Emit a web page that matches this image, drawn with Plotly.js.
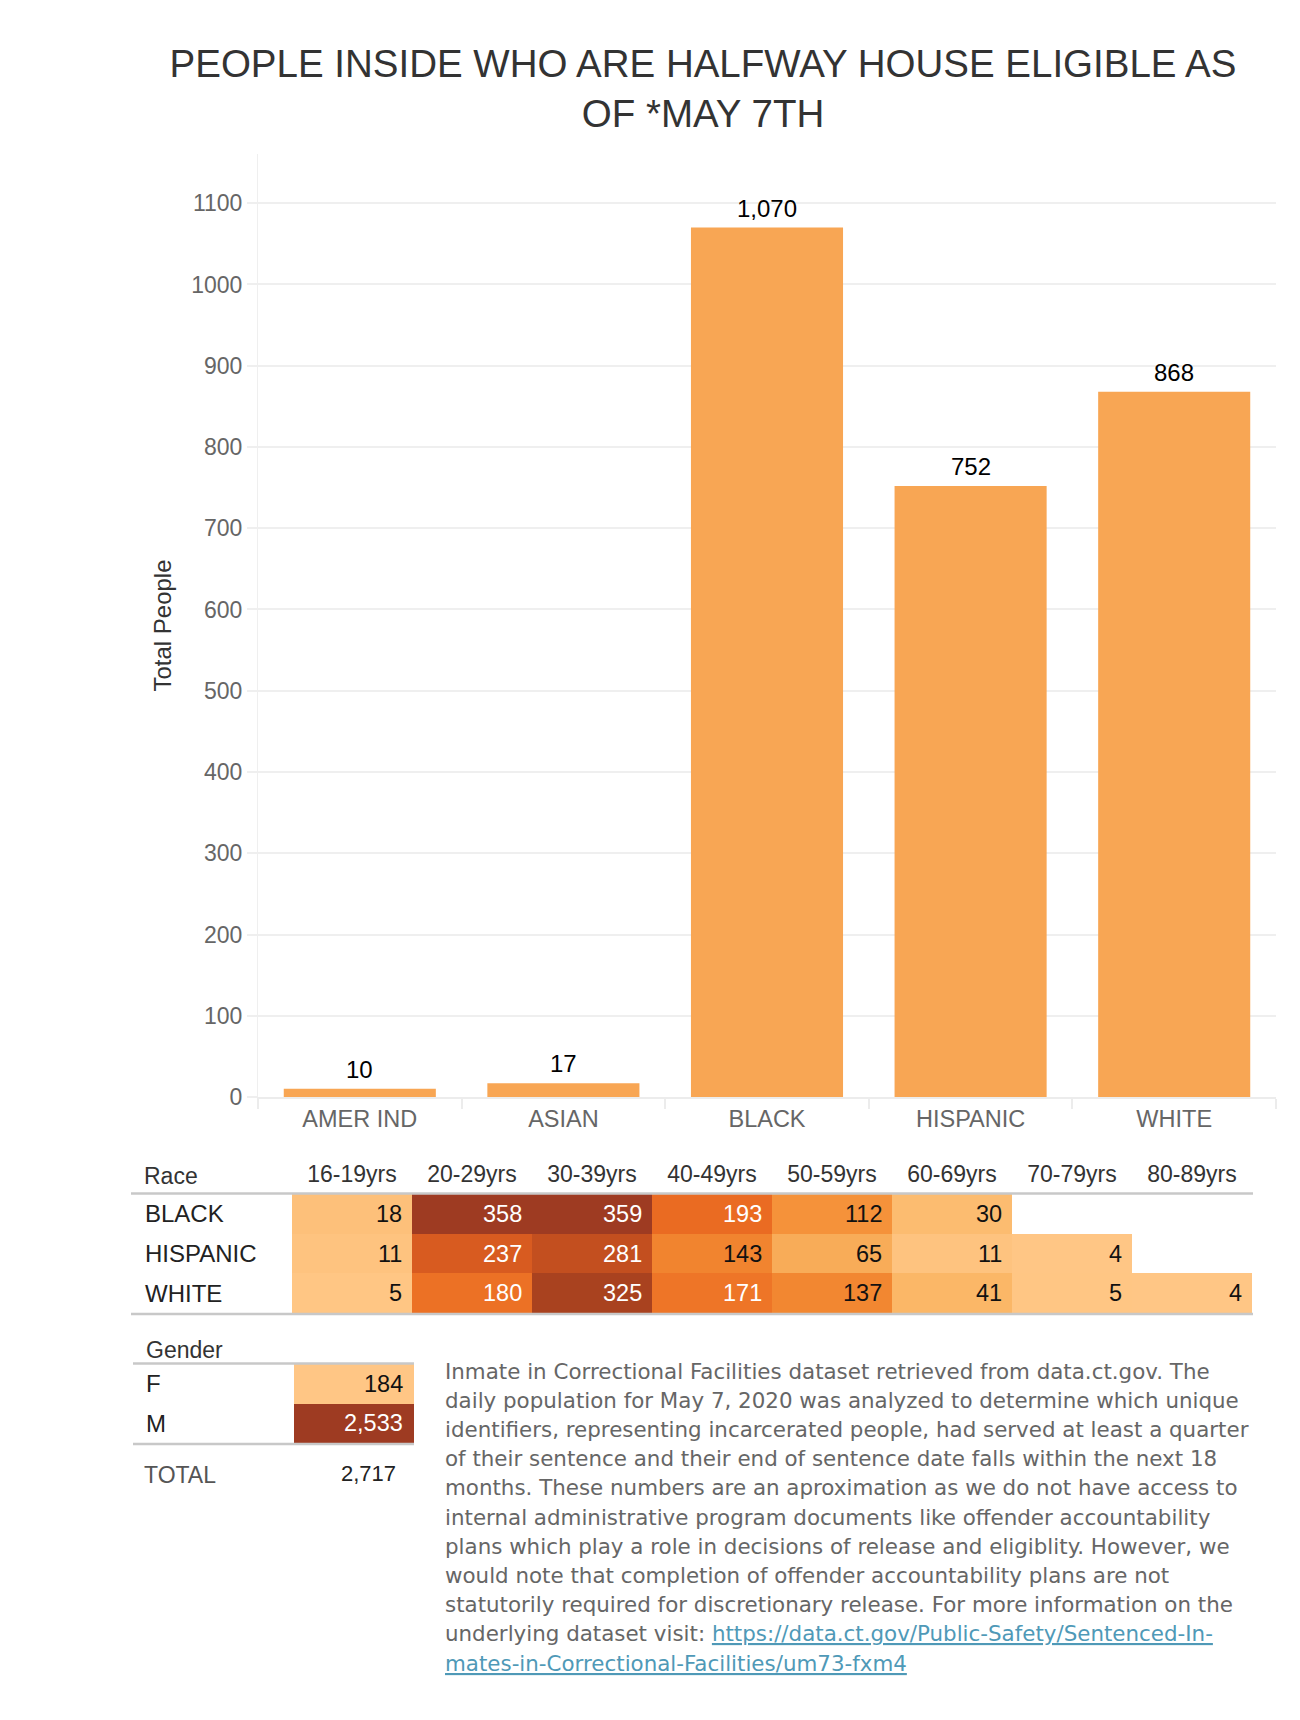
<!DOCTYPE html>
<html>
<head>
<meta charset="utf-8">
<script src="https://cdn.plot.ly/plotly-3.0.1.min.js"></script>
<style>
  html, body { margin: 0; padding: 0; background: #fff; }
  #chart { width: 1300px; height: 1720px; }
</style>
</head>
<body>
<div id="chart"></div>
<script>
// ---------- DATA ----------
const races = ["AMER IND", "ASIAN", "BLACK", "HISPANIC", "WHITE"];
const raceTotals = [10, 17, 1070, 752, 868];

const ageGroups = ["16-19yrs", "20-29yrs", "30-39yrs", "40-49yrs", "50-59yrs", "60-69yrs", "70-79yrs", "80-89yrs"];
const tableRaces = ["BLACK", "HISPANIC", "WHITE"];
const blackByAge    = [18, 358, 359, 193, 112, 30, null, null];
const hispanicByAge = [11, 237, 281, 143, 65, 11, 4, null];
const whiteByAge    = [5, 180, 325, 171, 137, 41, 5, 4];

const genders = ["F", "M"];
const genderTotals = [184, 2533];

const titleText = "PEOPLE INSIDE WHO ARE HALFWAY HOUSE ELIGIBLE AS<br>OF *MAY 7TH";
const yTitle = "Total People";
const noteLines = [
  "Inmate in Correctional Facilities dataset retrieved from data.ct.gov. The",
  "daily population for May 7, 2020 was analyzed to determine which unique",
  "identifiers, representing incarcerated people, had served at least a quarter",
  "of their sentence and their end of sentence date falls within the next 18",
  "months. These numbers are an aproximation as we do not have access to",
  "internal administrative program documents like offender accountability",
  "plans which play a role in decisions of release and eligiblity. However, we",
  "would note that completion of offender accountability plans are not",
  "statutorily required for discretionary release. For more information on the"
];
const linkPrefix = "underlying dataset visit: ";
const linkUrl = "https://data.ct.gov/Public-Safety/Sentenced-Inmates-in-Correctional-Facilities/um73-fxm4";
const linkPart1 = "https://data.ct.gov/Public-Safety/Sentenced-In-";
const linkPart2 = "mates-in-Correctional-Facilities/um73-fxm4";

// ---------- HELPERS ----------
const W = 1300, H = 1720;
const px = v => v / W;
const py = v => 1 - v / H;
const FONT = '"Liberation Sans", Arial, sans-serif';
const NOTE_FONT = '"DejaVu Sans", "Liberation Sans", sans-serif';
const fmt = v => v.toLocaleString('en-US');

const ageMatrix = [blackByAge, hispanicByAge, whiteByAge];

const orangeScale = [
  [0.00, '#ffc685'],
  [0.10, '#fbb868'],
  [0.18, '#f8ab56'],
  [0.30, '#f5933b'],
  [0.38, '#f28630'],
  [0.47, '#ee7527'],
  [0.53, '#ea6b22'],
  [0.65, '#d95c20'],
  [0.78, '#c34f1f'],
  [0.90, '#a9421f'],
  [1.00, '#9e3b22']
];

// ---------- TRACES ----------
const barTrace = {
  type: 'bar',
  x: races,
  y: raceTotals,
  marker: { color: '#f8a654' },
  width: 0.747,
  hoverinfo: 'skip',
  xaxis: 'x', yaxis: 'y'
};

const ageHeat = {
  type: 'heatmap',
  x: ageGroups.map((_, j) => j),
  y: tableRaces.map((_, i) => i),
  z: ageMatrix,
  zmin: 4, zmax: 359,
  colorscale: orangeScale,
  showscale: false,
  hoverinfo: 'skip',
  xaxis: 'x2', yaxis: 'y2'
};

const genderHeat = {
  type: 'heatmap',
  x: [0],
  y: genders.map((_, i) => i),
  z: genderTotals.map(v => [v]),
  zmin: 184, zmax: 2533,
  colorscale: orangeScale,
  showscale: false,
  hoverinfo: 'skip',
  xaxis: 'x3', yaxis: 'y3'
};

// ---------- ANNOTATIONS ----------
const ann = [];

// bar value labels
races.forEach((r, i) => {
  ann.push({
    xref: 'x', yref: 'y', x: r, y: raceTotals[i],
    text: fmt(raceTotals[i]), showarrow: false,
    xanchor: 'center', yanchor: 'bottom', yshift: 4,
    font: { family: FONT, size: 24, color: '#000' }
  });
});

// table header labels
ann.push({ xref: 'paper', yref: 'paper', x: px(142), y: py(1176), text: 'Race', showarrow: false,
  xanchor: 'left', yanchor: 'middle', font: { family: FONT, size: 23, color: '#333' } });
ann.push({ xref: 'paper', yref: 'paper', x: px(144), y: py(1350), text: 'Gender', showarrow: false,
  xanchor: 'left', yanchor: 'middle', font: { family: FONT, size: 23, color: '#333' } });

// age table row labels and cell values
tableRaces.forEach((r, i) => {
  ann.push({ xref: 'paper', yref: 'y2', x: px(143), y: i, text: r, showarrow: false,
    xanchor: 'left', yanchor: 'middle', font: { family: FONT, size: 24, color: '#222' } });
  ageMatrix[i].forEach((v, j) => {
    if (v === null) return;
    ann.push({ xref: 'x2', yref: 'y2', x: j + 0.5, y: i, xshift: -8, text: fmt(v), showarrow: false,
      xanchor: 'right', yanchor: 'middle',
      font: { family: FONT, size: 23.5, color: v >= 150 ? '#fff' : '#111' } });
  });
});

// gender table
genders.forEach((g, i) => {
  ann.push({ xref: 'paper', yref: 'y3', x: px(144), y: i, text: g, showarrow: false,
    xanchor: 'left', yanchor: 'middle', font: { family: FONT, size: 24, color: '#222' } });
  ann.push({ xref: 'x3', yref: 'y3', x: 0.5, y: i, xshift: -9, text: fmt(genderTotals[i]), showarrow: false,
    xanchor: 'right', yanchor: 'middle',
    font: { family: FONT, size: 23.5, color: genderTotals[i] >= 1000 ? '#fff' : '#111' } });
});

// total row
const total = genderTotals.reduce((a, b) => a + b, 0);
ann.push({ xref: 'paper', yref: 'paper', x: px(142), y: py(1475), text: 'TOTAL', showarrow: false,
  xanchor: 'left', yanchor: 'middle', font: { family: FONT, size: 23, color: '#555' } });
ann.push({ xref: 'paper', yref: 'paper', x: px(398), y: py(1473), text: fmt(total), showarrow: false,
  xanchor: 'right', yanchor: 'middle', font: { family: FONT, size: 22, color: '#222' } });

// description paragraph, one annotation per line
const linkStyle = 'color:#4f99b7;text-decoration:underline';
const allLines = noteLines.concat([
  linkPrefix + '<a href="' + linkUrl + '" style="' + linkStyle + '">' + linkPart1 + '</a>',
  '<a href="' + linkUrl + '" style="' + linkStyle + '">' + linkPart2 + '</a>'
]);
allLines.forEach((line, k) => {
  ann.push({ xref: 'paper', yref: 'paper', x: px(443), y: py(1371 + k * 29.2), text: line, showarrow: false,
    xanchor: 'left', yanchor: 'middle', align: 'left',
    font: { family: NOTE_FONT, size: 21.4, color: '#666' } });
});

// ---------- SHAPES (table rules) ----------
const rule = (x0, x1, y) => ({
  type: 'line', xref: 'paper', yref: 'paper', x0: px(x0), x1: px(x1), y0: py(y), y1: py(y),
  line: { color: '#c8c8c8', width: 2.5 }
});
const shapes = [
  rule(131, 1253, 1193.5),
  rule(131, 1253, 1314),
  rule(133, 414, 1363.5),
  rule(133, 414, 1444)
];

// ---------- LAYOUT ----------
const layout = {
  width: W, height: H,
  margin: { l: 0, r: 0, t: 0, b: 0, pad: 0 },
  paper_bgcolor: '#fff', plot_bgcolor: '#fff',
  font: { family: FONT, color: '#333' },
  showlegend: false,
  title: {
    text: titleText,
    x: px(703), xanchor: 'center', xref: 'paper',
    y: py(77), yanchor: 'top', yref: 'container',
    font: { family: FONT, size: 38.5, color: '#333' }
  },
  xaxis: {
    domain: [px(258), px(1276)],
    type: 'category',
    anchor: 'y',
    showgrid: false, zeroline: false,
    showline: true, linecolor: '#ececec', linewidth: 2,
    ticks: 'outside', tickson: 'boundaries', ticklen: 10, tickcolor: '#ececec', tickwidth: 2,
    tickfont: { family: FONT, size: 23.5, color: '#666' },
    fixedrange: true
  },
  yaxis: {
    domain: [py(1097), py(154)],
    anchor: 'x',
    range: [0, 1160.6],
    dtick: 100, tick0: 0,
    showgrid: true, gridcolor: '#efefef', gridwidth: 2,
    zeroline: false,
    showline: true, linecolor: '#efefef', linewidth: 1,
    ticks: 'outside', ticklen: 10, tickcolor: '#efefef', tickwidth: 2,
    tickfont: { family: FONT, size: 23, color: '#666' },
    title: { text: yTitle, standoff: 12, font: { family: FONT, size: 24, color: '#333' } },
    fixedrange: true
  },
  xaxis2: {
    domain: [px(292), px(1252)],
    anchor: 'y2', side: 'top',
    range: [-0.5, 7.5],
    tickvals: ageGroups.map((_, j) => j), ticktext: ageGroups,
    ticks: '', showgrid: false, zeroline: false, showline: false,
    ticklabelstandoff: 6,
    tickfont: { family: FONT, size: 23, color: '#333' },
    fixedrange: true
  },
  yaxis2: {
    domain: [py(1313), py(1194)],
    anchor: 'x2',
    range: [2.5, -0.5],
    showticklabels: false, ticks: '', showgrid: false, zeroline: false, showline: false,
    fixedrange: true
  },
  xaxis3: {
    domain: [px(294), px(414)],
    anchor: 'y3',
    range: [-0.5, 0.5],
    showticklabels: false, ticks: '', showgrid: false, zeroline: false, showline: false,
    fixedrange: true
  },
  yaxis3: {
    domain: [py(1443), py(1364)],
    anchor: 'x3',
    range: [1.5, -0.5],
    showticklabels: false, ticks: '', showgrid: false, zeroline: false, showline: false,
    fixedrange: true
  },
  annotations: ann,
  shapes: shapes
};

Plotly.newPlot('chart', [barTrace, ageHeat, genderHeat], layout, { displayModeBar: false, staticPlot: true });
</script>
</body>
</html>
